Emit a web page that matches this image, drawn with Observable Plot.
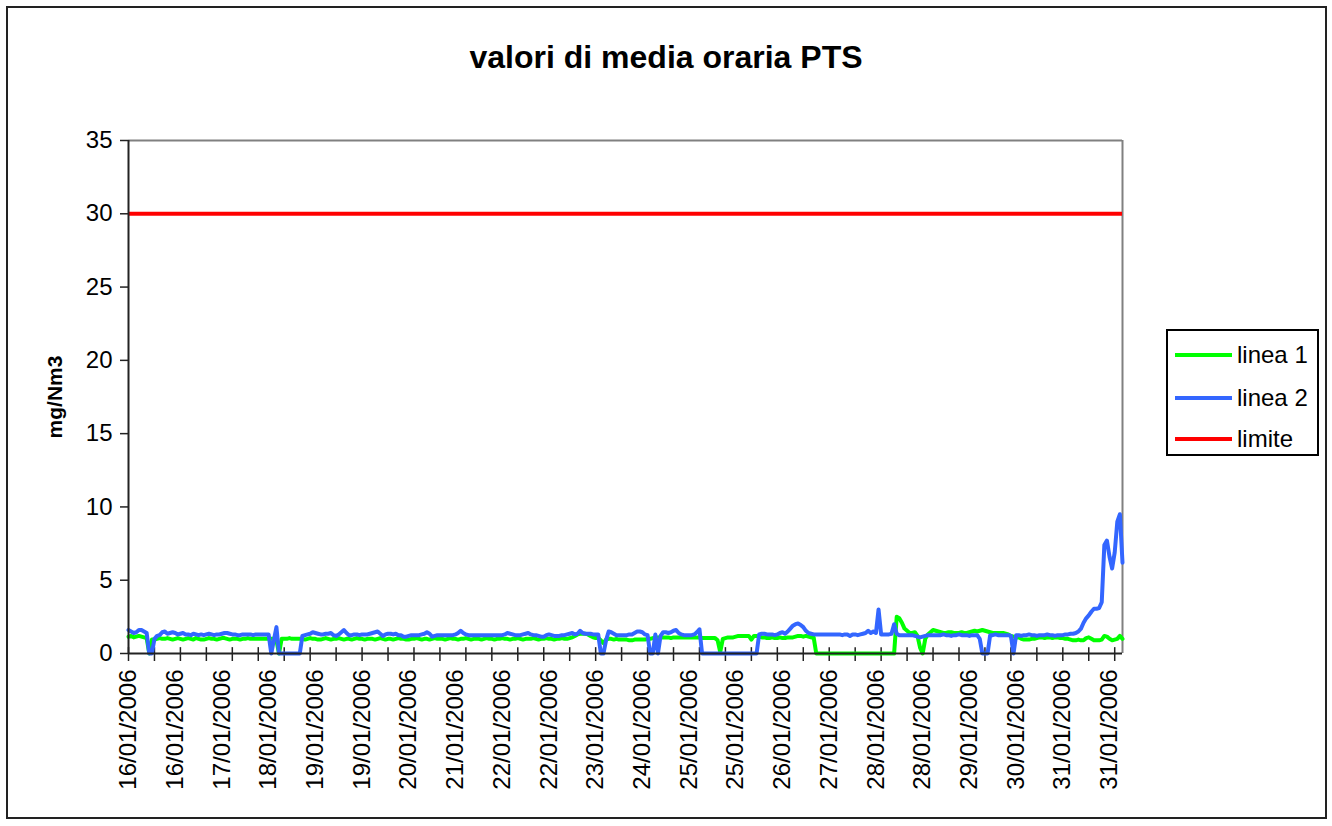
<!DOCTYPE html>
<html>
<head>
<meta charset="utf-8">
<script src="https://cdn.jsdelivr.net/npm/d3@7"></script>
<script src="https://cdn.jsdelivr.net/npm/@observablehq/plot@0.6"></script>
<style>
  html, body { margin: 0; padding: 0; background: #fff; }
  #wrap { position: relative; width: 1332px; height: 826px; font-family: "Liberation Sans", Arial, sans-serif; color: #000; overflow: hidden; }
  #frame { position: absolute; left: 6px; top: 6px; width: 1321px; height: 813px; border: 2px solid #222; box-sizing: border-box; pointer-events: none; }
  #title { position: absolute; left: 0; width: 1332px; top: 39px; text-align: center; font-weight: bold; font-size: 32px; line-height: 36px; }
  #legend { position: absolute; left: 1166px; top: 329px; width: 153px; height: 127px; border: 2px solid #000; box-sizing: border-box; background: #fff; }
  .item { position: absolute; left: 0; height: 30px; width: 150px; }
  .item svg { position: absolute; left: 7px; top: 0; }
  .item span { position: absolute; left: 69px; top: 0; font-size: 24px; line-height: 30px; white-space: nowrap; }
  #chart { position: absolute; left: 0; top: 0; }
</style>
</head>
<body>
<div id="wrap">
  <div id="chart"></div>
  <div id="frame"></div>
  <div id="title"></div>
  <div id="legend"></div>
</div>
<script>
// ---- data (hourly values, 16/01/2006 – 31/01/2006) ----
const linea1 = [
  1.15,1.2,1.1,1.15,1.2,1.15, 1.1,1.05,0,0.95,0.95,1.0, 1.05,1.0,1.0,1.05,1.0,0.95, 1.0,1.05,1.0,0.95,1.0,1.05,
  1.0,0.95,1.05,1.0,0.95,0.95, 1.0,1.05,1.0,1.0,0.95,1.0, 1.05,1.05,1.0,0.95,1.0,1.0, 1.0,0.95,1.0,1.0,1.05,1.0,
  1.0,1.0,1.0,1.0,1.0,1.0, 1.0,1.0,1.0,0.9,0,1.0, 1.0,1.0,1.05,1.0,1.0,1.0, 1.0,1.0,0.95,1.0,1.05,1.0,
  1.0,0.95,0.95,1.0,1.05,1.0, 0.95,1.0,1.0,1.05,1.0,0.95, 1.0,1.0,0.95,1.0,1.05,1.0, 1.0,0.95,1.0,1.0,1.0,0.95,
  1.0,1.05,1.0,0.95,1.0,1.0, 0.95,1.0,1.05,1.0,1.0,0.95, 0.95,1.0,1.0,1.05,1.0,0.95, 1.0,1.0,0.95,1.0,1.05,1.0,
  1.0,1.0,0.95,1.0,1.05,1.0, 1.0,0.95,1.0,1.0,1.05,1.0, 0.95,1.0,1.0,1.0,0.95,1.0, 1.05,1.0,1.0,0.95,1.0,1.0,
  1.05,1.0,1.0,0.95,1.0,1.0, 1.05,1.0,0.95,1.0,1.0,1.0, 1.05,1.0,0.95,1.0,1.0,1.05, 1.0,1.0,0.95,1.0,1.0,1.05,
  1.0,1.0,1.05,1.1,1.2,1.3, 1.35,1.35,1.35,1.3,1.2,1.1, 1.05,1.05,0.9,0.7,0.95,1.0, 1.0,0.95,1.0,0.95,0.95,0.95,
  0.95,0.9,0.9,0.95,0.95,0.95, 0.95,0.95,1.0,1.0,1.05,1.1, 1.1,1.1,1.1,1.1,1.1,1.05, 1.1,1.1,1.1,1.1,1.1,1.1,
  1.1,1.1,1.1,1.1,1.1,1.05, 1.05,1.05,1.05,1.05,1.05,0.9, 0.1,1.0,1.05,1.1,1.1,1.1, 1.15,1.2,1.2,1.2,1.2,1.2,
  0.95,1.2,1.2,1.15,1.1,1.1, 1.05,1.05,1.1,1.05,1.05,1.1, 1.05,1.05,1.1,1.1,1.1,1.15, 1.2,1.2,1.15,1.2,1.15,1.1,
  1.1,0,0,0,0,0, 0,0,0,0,0,0, 0,0,0,0,0,0, 0,0,0,0,0,0,
  0,0,0,0,0,0, 0,0,2.5,2.4,2.1,1.7, 1.55,1.4,1.4,1.45,1.2,0.4, 0,1.0,1.3,1.45,1.6,1.55,
  1.5,1.45,1.4,1.4,1.45,1.45, 1.4,1.4,1.4,1.45,1.4,1.4, 1.45,1.5,1.55,1.5,1.55,1.6, 1.55,1.5,1.45,1.4,1.4,1.4,
  1.4,1.4,1.35,1.3,1.2,1.15, 1.1,1.1,1.0,0.95,0.95,0.95, 1.0,1.0,1.05,1.1,1.1,1.05, 1.1,1.1,1.05,1.1,1.1,1.05,
  1.05,1.0,1.0,0.95,0.9,0.9, 0.95,0.9,0.9,1.05,1.1,1.0, 0.9,0.9,0.9,0.95,1.2,1.15, 1.0,0.9,0.95,1.0,1.2,1.0
];
const linea2 = [
  1.6,1.5,1.4,1.45,1.6,1.6, 1.5,1.4,0,0,1.0,1.2, 1.25,1.45,1.5,1.35,1.4,1.45, 1.4,1.3,1.35,1.4,1.3,1.3,
  1.25,1.35,1.3,1.25,1.3,1.25, 1.3,1.35,1.3,1.25,1.3,1.3, 1.35,1.4,1.4,1.35,1.3,1.3, 1.25,1.25,1.3,1.3,1.3,1.3,
  1.25,1.3,1.3,1.3,1.3,1.3, 1.3,0,0.9,1.8,0,0, 0,0,0,0,0,0, 0,1.2,1.25,1.3,1.35,1.45,
  1.4,1.35,1.3,1.3,1.35,1.35, 1.4,1.25,1.2,1.3,1.45,1.6, 1.4,1.25,1.25,1.3,1.3,1.25, 1.3,1.3,1.3,1.35,1.4,1.45,
  1.5,1.35,1.2,1.3,1.35,1.35, 1.3,1.35,1.25,1.25,1.15,1.15, 1.2,1.25,1.25,1.25,1.25,1.3, 1.35,1.45,1.35,1.15,1.2,1.25,
  1.25,1.25,1.25,1.25,1.25,1.25, 1.3,1.4,1.55,1.4,1.3,1.25, 1.25,1.25,1.25,1.25,1.25,1.25, 1.25,1.25,1.25,1.25,1.25,1.25,
  1.25,1.3,1.4,1.35,1.3,1.25, 1.25,1.25,1.3,1.35,1.4,1.3, 1.25,1.25,1.2,1.15,1.15,1.25, 1.3,1.25,1.2,1.2,1.2,1.25,
  1.25,1.3,1.35,1.4,1.3,1.35, 1.55,1.4,1.35,1.35,1.35,1.3, 1.3,1.3,0,0,0.9,1.5, 1.45,1.35,1.25,1.25,1.25,1.25,
  1.25,1.3,1.3,1.4,1.5,1.5, 1.45,1.3,1.25,0,0,1.3, 0,1.2,1.45,1.45,1.4,1.45, 1.55,1.6,1.4,1.3,1.25,1.25,
  1.25,1.25,1.3,1.45,1.65,0, 0,0,0,0,0,0, 0,0,0,0,0,0, 0,0,0,0,0,0,
  0,0,0,1.3,1.35,1.35, 1.3,1.3,1.3,1.25,1.3,1.4, 1.45,1.35,1.5,1.7,1.9,2.0, 2.05,1.95,1.8,1.55,1.4,1.35,
  1.3,1.3,1.3,1.3,1.3,1.3, 1.3,1.3,1.3,1.3,1.3,1.25, 1.3,1.3,1.2,1.3,1.3,1.25, 1.3,1.35,1.4,1.55,1.4,1.5,
  1.4,3.0,1.3,1.3,1.3,1.3, 1.35,2.0,1.35,1.25,1.25,1.25, 1.25,1.25,1.25,1.2,1.15,1.1, 1.15,1.2,1.25,1.25,1.25,1.25,
  1.25,1.25,1.3,1.25,1.25,1.2, 1.25,1.25,1.3,1.25,1.25,1.25, 1.2,1.25,1.25,1.25,1.0,0, 0,0,1.25,1.25,1.3,1.25,
  1.25,1.25,1.25,1.25,1.2,0, 1.25,1.25,1.2,1.25,1.25,1.3, 1.25,1.25,1.2,1.25,1.25,1.25, 1.3,1.25,1.25,1.2,1.25,1.25,
  1.25,1.3,1.3,1.35,1.35,1.4, 1.5,1.7,2.1,2.4,2.6,2.85, 3.05,3.05,3.1,3.5,7.4,7.7, 6.6,5.8,6.9,9.0,9.5,6.2
];
const limite = 30;
const tickLabels = ["16/01/2006","16/01/2006","17/01/2006","18/01/2006","19/01/2006","19/01/2006",
  "20/01/2006","21/01/2006","22/01/2006","22/01/2006","23/01/2006","24/01/2006","25/01/2006",
  "25/01/2006","26/01/2006","27/01/2006","28/01/2006","28/01/2006","29/01/2006","30/01/2006",
  "31/01/2006","31/01/2006"];
const labelInterval = 18;   // category label every 18 hours (Excel axis setting)
const tickInterval = 10;    // tick mark every 10 categories
const yTicks = [0, 5, 10, 15, 20, 25, 30, 35];
const seriesNames = ["linea 1", "linea 2", "limite"];
const seriesColors = ["#00FF00", "#3366FF", "#FF0000"];
const titleText = "valori di media oraria PTS";
const yLabel = "mg/Nm3";

// ---- chart ----
const n = linea1.length;
const labelIdx = tickLabels.map((_, k) => k * labelInterval);
const tickIdx = d3.range(0, n, tickInterval);

const chart = Plot.plot({
  width: 1332,
  height: 826,
  marginLeft: 128,
  marginRight: 210,
  marginTop: 140,
  marginBottom: 173,
  style: { fontFamily: "'Liberation Sans', Arial, sans-serif", color: "#000", background: "transparent", overflow: "visible" },
  x: { domain: [0, n - 1], axis: null },
  y: { domain: [0, 35], axis: null },
  marks: [
    Plot.ruleY([35], { stroke: "#808080", strokeWidth: 2 }),
    Plot.ruleX([n - 1], { stroke: "#808080", strokeWidth: 2 }),
    Plot.axisY({ ticks: yTicks, tickSize: 8, tickPadding: 8, label: null, fontSize: 24, stroke: "#222", strokeWidth: 1.5 }),
    Plot.axisX({ ticks: labelIdx, tickSize: 0, tickPadding: 16, tickRotate: -90,
      tickFormat: (d) => tickLabels[d / labelInterval], label: null, fontSize: 24 }),
    Plot.axisX({ ticks: tickIdx, tickSize: 8, tickFormat: () => "", label: null, stroke: "#222", strokeWidth: 1.5 }),
    Plot.ruleX(tickIdx, { y1: 0, y2: 0.4, stroke: "#222", strokeWidth: 1.5 }),
    Plot.line(linea1, { x: (d, i) => i, y: (d) => d, stroke: seriesColors[0], strokeWidth: 4, strokeLinejoin: "round" }),
    Plot.line(linea2, { x: (d, i) => i, y: (d) => d, stroke: seriesColors[1], strokeWidth: 4, strokeLinejoin: "round" }),
    Plot.ruleY([limite], { stroke: seriesColors[2], strokeWidth: 4 }),
    Plot.ruleX([0], { stroke: "#222", strokeWidth: 2 }),
    Plot.ruleY([0], { stroke: "#222", strokeWidth: 2 }),
    Plot.text([yLabel], { frameAnchor: "left", textAnchor: "middle", dx: -73, rotate: -90, fontWeight: "bold", fontSize: 21, fill: "#000" })
  ]
});
document.getElementById("chart").appendChild(chart);
document.getElementById("title").textContent = titleText;

const legend = document.getElementById("legend");
const itemTops = [9, 52, 93];
seriesNames.forEach((name, k) => {
  const item = document.createElement("div");
  item.className = "item";
  item.style.top = itemTops[k] + "px";
  item.innerHTML = `<svg width="60" height="30"><line x1="0" x2="57" y1="15" y2="15" stroke="${seriesColors[k]}" stroke-width="4"/></svg><span></span>`;
  item.querySelector("span").textContent = name;
  legend.appendChild(item);
});
</script>
</body>
</html>
